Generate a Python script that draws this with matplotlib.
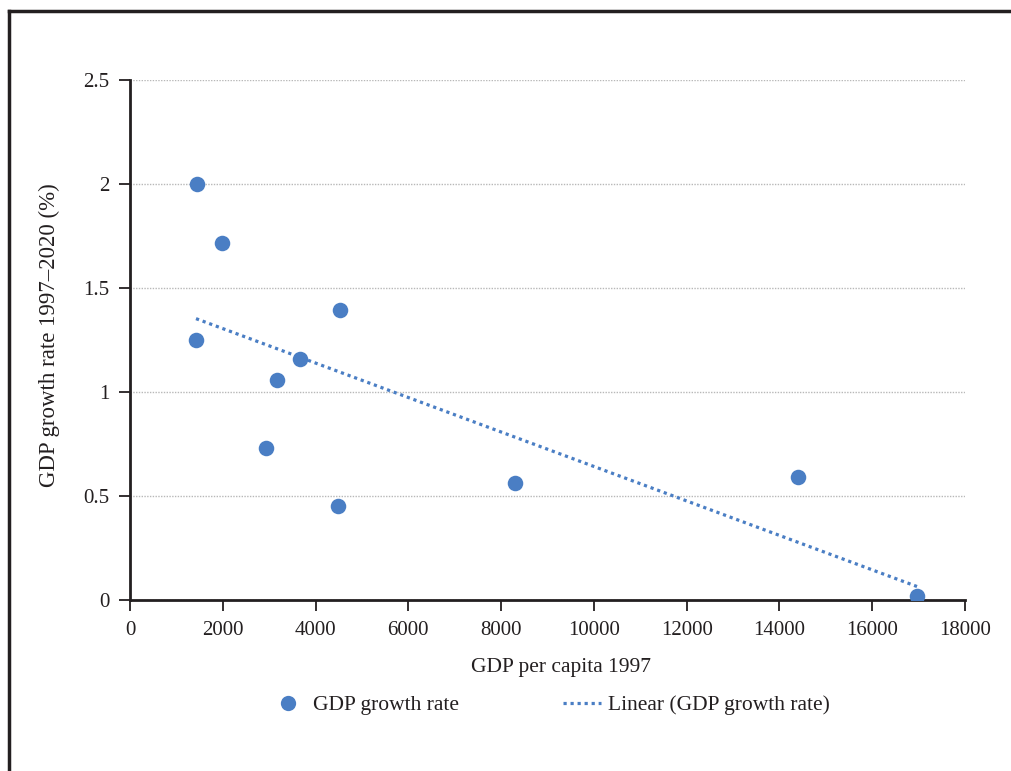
import numpy as np
import matplotlib
matplotlib.use("Agg")
import matplotlib.pyplot as plt
from matplotlib.lines import Line2D

plt.rcParams['font.family'] = ['Liberation Serif', 'DejaVu Serif']

gdp_per_capita_1997 = [1444, 1983, 1423, 4527, 3665, 3169, 2932, 4484, 8300, 14400, 16965]
gdp_growth_rate = [2.0, 1.716, 1.25, 1.394, 1.159, 1.058, 0.731, 0.452, 0.5625, 0.591, 0.019]
x_ticks = [0, 2000, 4000, 6000, 8000, 10000, 12000, 14000, 16000, 18000]
y_ticks = [0, 0.5, 1, 1.5, 2, 2.5]
y_tick_labels = ['0', '0.5', '1', '1.5', '2', '2.5']

blue = '#4a7ec4'
ink = '#231f20'
W, H = 1012, 771
fig = plt.figure(figsize=(W / 100, H / 100), dpi=100)
ax = fig.add_axes([130 / W, 1 - 600 / H, (965 - 130) / W, (600 - 80) / H])

x = np.array(gdp_per_capita_1997, dtype=float)
y = np.array(gdp_growth_rate, dtype=float)
ax.scatter(x, y, s=125, color=blue, zorder=3, linewidths=0)
m, b = np.polyfit(x, y, 1)
xs = np.array([x.min(), x.max()])
ax.plot(xs, m * xs + b, linestyle=(0, (1, 1.2)), color=blue, lw=2.3, zorder=2)

ax.set_xlim(0, 18000)
ax.set_ylim(0, 2.5)
ax.set_xticks(x_ticks)
ax.set_xticklabels([str(t) for t in x_ticks])
ax.set_yticks(y_ticks)
ax.set_yticklabels(y_tick_labels)
ax.yaxis.grid(True, linestyle=(0, (1, 1)), color='#b8b8b8', lw=1)
ax.set_axisbelow(True)
for s in ['top', 'right']:
    ax.spines[s].set_visible(False)
for s in ['left', 'bottom']:
    ax.spines[s].set_linewidth(2)
    ax.spines[s].set_color(ink)
ax.tick_params(axis='x', direction='out', length=8, width=1.3, color=ink,
               labelsize=15, labelcolor=ink, pad=7)
ax.tick_params(axis='y', direction='out', length=8, width=1.3, color=ink,
               labelsize=15, labelcolor=ink, pad=7)
ax.set_xlabel('GDP per capita 1997', fontsize=15.5, color=ink)
ax.xaxis.set_label_coords((561 - 130) / 835, -58 / 520)
ax.set_ylabel('GDP growth rate 1997–2020 (%)', fontsize=16.5, color=ink)
ax.yaxis.set_label_coords(-70 / 835, 0.51)

handles = [Line2D([], [], marker='o', linestyle='none', color=blue, markersize=11, markeredgewidth=0),
           Line2D([], [], linestyle=(0, (1, 1.2)), color=blue, lw=2.3)]
fig.legend(handles, ['GDP growth rate', 'Linear (GDP growth rate)'], loc='center',
           bbox_to_anchor=(549 / W, 1 - 705 / H), ncol=2, frameon=False, fontsize=15.5,
           columnspacing=4.8, handlelength=1.8, handletextpad=0.3, labelcolor=ink)

# outer frame (left, top)
fr = dict(color=ink, lw=2.5, transform=fig.transFigure, clip_on=False)
fig.add_artist(Line2D([9 / W, 9 / W], [0, 1 - 11 / H], **fr))
fig.add_artist(Line2D([9 / W, 1], [1 - 11 / H, 1 - 11 / H], **fr))

fig.savefig('out.png', dpi=100)
